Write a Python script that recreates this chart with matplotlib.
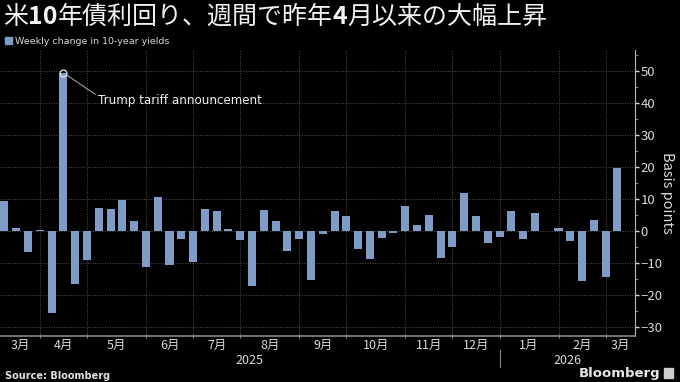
import matplotlib
matplotlib.use('Agg')
import matplotlib.pyplot as plt
import numpy as np
import pandas as pd

plt.rcParams['font.family'] = ['Noto Sans CJK JP', 'DejaVu Sans']

# weekly change in 10-year yields, bp (week ending Fridays)
weeks = pd.date_range('2025-03-14', periods=53, freq='W-FRI')
changes = [9.4, 0.9, -6.6, 0.3, -25.4, 49.4, -16.5, -8.9, 7.3, 7.1,
           9.9, 3.3, -11.0, 10.6, -10.6, -2.3, -9.7, 6.9, 6.4, 0.6,
           -2.6, -17.2, 6.7, 3.3, -6.1, -2.5, -15.3, -0.8, 6.4, 4.8,
           -5.6, -8.6, -2.2, -0.6, 7.8, 2.0, 5.1, -8.4, -5.0, 12.1,
           4.9, -3.6, -1.9, 6.3, -2.5, 5.7, 0.1, 0.9, -2.9, -15.6,
           3.4, -14.4, 19.9]
yticks = [-30, -20, -10, 0, 10, 20, 30, 40, 50]
spike_label = 'Trump tariff announcement'

bg = '#000000'
bar_col = '#7f9cc6'
grid_col = '#505050'
txt_col = '#d9d9d9'

fig = plt.figure(figsize=(6.8, 3.82), dpi=100, facecolor=bg)
ax = fig.add_axes([0.0, 0.1204, 0.934, 0.7487], facecolor=bg)

x = np.arange(len(changes))
ax.bar(x, changes, width=0.68, color=bar_col, zorder=3)

ax.set_xlim(-0.38, len(changes) + 0.5)
ax.set_ylim(-32.7, 56.6)

# month boundaries = first bar of each new month
months = weeks.month
bounds = [i for i in range(1, len(weeks)) if months[i] != months[i - 1]]
ax.set_xticks(bounds)
ax.set_xticklabels([])
ax.tick_params(axis='x', length=3, width=0.8, color='#888888', direction='inout')

xt = ax.get_xaxis_transform()
edges = [ax.get_xlim()[0]] + bounds + [ax.get_xlim()[1]]
for a, b in zip(edges[:-1], edges[1:]):
    m = weeks[int(np.ceil(max(a, 0)))].month
    ax.text((a + b) / 2, -0.01, f'{m}月', transform=xt,
            ha='center', va='top', fontsize=9, color=txt_col)

# year labels and divider
yb = [i for i in bounds if weeks[i].year != weeks[i - 1].year][0]
xl = ax.get_xlim()
ax.text((xl[0] + yb) / 2, -0.063, '2025', transform=xt,
        ha='center', va='top', fontsize=9, color=txt_col)
ax.text((yb + xl[1]) / 2, -0.063, '2026', transform=xt,
        ha='center', va='top', fontsize=9, color=txt_col)
ax.plot([yb, yb], [-0.05, -0.11], transform=xt,
        color='#888888', lw=0.8, clip_on=False)

ax.yaxis.tick_right()
ax.yaxis.set_label_position('right')
ax.set_yticks(yticks)
ax.set_yticks(np.arange(-25, 56, 10), minor=True)
ax.tick_params(axis='y', which='major', length=3, width=1, color='#dddddd',
               labelcolor=txt_col, labelsize=9.5, pad=1)
ax.tick_params(axis='y', which='minor', length=2, width=0.8, color='#777777')
ax.set_ylabel('Basis points', rotation=270, labelpad=8, color=txt_col, fontsize=10.5)

ax.grid(True, which='major', color=grid_col, linestyle=(0, (1, 1.5)), lw=0.7, zorder=0)

for s in ['top', 'left']:
    ax.spines[s].set_visible(False)
ax.spines['right'].set_color('#bbbbbb')
ax.spines['bottom'].set_color('#888888')
ax.spines['bottom'].set_linewidth(1.2)

# annotation of the tariff spike
i_max = int(np.argmax(changes))
ax.plot(i_max, changes[i_max], 'o', ms=5, mfc='none', mec='#e8e8e8', mew=0.9, zorder=5)
ax.annotate(spike_label, xy=(i_max + 0.2, changes[i_max] - 0.4), xytext=(7.95, 40.7),
            color='#f0f0f0', fontsize=8.6, va='center', ha='left',
            family=['DejaVu Sans'],
            arrowprops=dict(arrowstyle='-', color='#999999', lw=0.8,
                            shrinkA=0, shrinkB=0, relpos=(0, 0.85)))

# title with bold digits
parts = [('米', 'normal'), ('10', 'bold'), ('年債利回り、週間で昨年', 'normal'),
         ('4', 'bold'), ('月以来の大幅上昇', 'normal')]
renderer = fig.canvas.get_renderer()
xpos = 3
for s, w in parts:
    t = fig.text(xpos / 680, 1 - 17 / 382, s, fontsize=18, color='#f2f2f2',
                 weight=w, va='center', ha='left')
    bb = t.get_window_extent(renderer)
    xpos = bb.x1

# legend
fig.patches.append(plt.Rectangle((5 / 680, 1 - 44 / 382), 7 / 680, 7 / 382,
                                 transform=fig.transFigure, color=bar_col))
fig.text(15 / 680, 1 - 41 / 382, 'Weekly change in 10-year yields',
         fontsize=6.8, color=txt_col, va='center', ha='left', family=['DejaVu Sans'])

fig.text(5 / 680, 1 - 376 / 382, 'Source: Bloomberg', fontsize=7, weight='bold',
         color='#e0e0e0', va='center', ha='left', family=['DejaVu Sans'])
fig.text(660 / 680, 1 - 373 / 382, 'Bloomberg', fontsize=9.5, weight='bold',
         color='#e8e8e8', va='center', ha='right', family=['DejaVu Sans'])
fig.patches.append(plt.Rectangle((664 / 680, 1 - 378 / 382), 9 / 680, 10 / 382,
                                 transform=fig.transFigure, color='#cccccc'))

fig.savefig('out.png', dpi=100, facecolor=bg)
